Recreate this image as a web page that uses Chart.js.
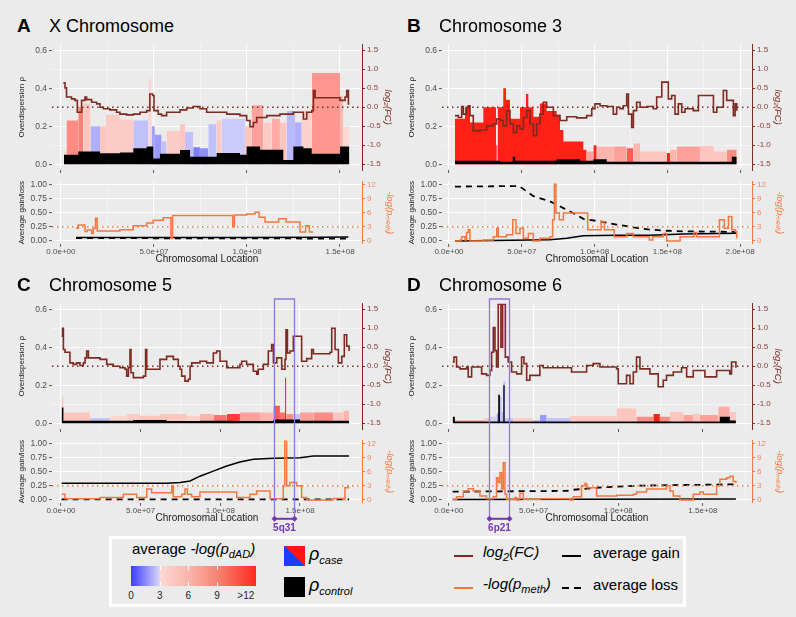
<!DOCTYPE html>
<html>
<head>
<meta charset="utf-8">
<script src="https://cdn.jsdelivr.net/npm/chart.js@4.4.1/dist/chart.umd.min.js"></script>
<style>
  body { margin: 0; background: #ebebeb; font-family: "Liberation Sans", Arial, sans-serif; }
  #fig { position: relative; width: 796px; height: 617px; overflow: hidden; background: #ebebeb; }
  #fig canvas { position: absolute; }
  .abs { position: absolute; white-space: nowrap; color: #000; }
  .letter { font-size: 19px; font-weight: bold; line-height: 19px; }
  .chrom { font-size: 18px; line-height: 18px; }
  .lg { font-size: 15px; line-height: 18px; }
  .lg i sub, .lg sub { font-size: 11px; vertical-align: -4px; line-height: 0; }
</style>
</head>
<body>
<div id="fig"></div>
<script>
// ---- ticks shared by all panels
const rhoTicks = [0, 0.1, 0.2, 0.3, 0.4, 0.5, 0.6]
const fcTicks = [-1.5, -1, -0.5, 0, 0.5, 1, 1.5]
const avgTicks = [0, 0.125, 0.25, 0.375, 0.5, 0.625, 0.75, 0.875, 1]
const methTicks = [0, 3, 6, 9, 12]
const posTicks = [0, 25, 50, 75, 100, 125, 150, 175, 200] // Mb

// ---- A: X chromosome (positions in Mb)
const xCasePos = [1.6, 3.0, 9.3, 12.0, 15.9, 21.0, 24.2, 31.7, 38.9, 47.0, 48.7, 50.5, 54.1, 56.8, 64.0, 66.7, 71.1, 74.7, 79.2, 83.7, 86.4, 98.9, 102.5, 108.8, 113.3, 117.7, 121.3, 125.8, 129.4, 134.8, 150.0, 151.8, 155.0]
const xCaseRho = [0.067, 0.23, 0.30, 0.32, 0.20, 0.20, 0.26, 0.235, 0.23, 0.45, 0.20, 0.155, 0.12, 0.175, 0.21, 0.17, 0.09, 0.085, 0.21, 0.23, 0.24, 0.20, 0.31, 0.22, 0.24, 0.22, 0.28, 0.22, 0.28, 0.48, 0.36, 0.20, 0.20]
const xCaseScore = [4, 8, 8.5, 5, 1.5, 5, 4.5, 4.5, 2, 3.5, 1.2, 1, 2, 4.5, 5, 2, 0.5, 0.8, 2, 4.5, 2.3, 5, 7, 4.5, 6.5, 5, 1.8, 1.5, 4, 7.5, 6, 3, 3]
const xCtrlPos = [1.6, 9.3, 21.0, 31.7, 38.9, 46.1, 49.6, 53.2, 64.0, 69.4, 83.7, 96.2, 99.8, 107.0, 119.5, 124.9, 130.3, 134.8, 150.0, 155.0]
const xCtrlRho = [0.05, 0.067, 0.058, 0.062, 0.085, 0.093, 0.03, 0.055, 0.075, 0.04, 0.06, 0.05, 0.093, 0.076, 0.023, 0.093, 0.085, 0.055, 0.093, 0.093]
const xFcPos = [1.3, 2.2, 3.0, 5.7, 7.5, 8.8, 11.1, 12.9, 13.8, 16.5, 19.2, 21.0, 22.8, 26.3, 29.9, 31.7, 35.3, 38.9, 42.5, 46.1, 47.8, 49.3, 50.0, 52.3, 54.1, 56.8, 64.0, 67.6, 71.1, 74.7, 78.3, 89.1, 96.2, 99.8, 101.6, 103.4, 105.2, 110.6, 117.7, 124.9, 130.3, 132.1, 134.8, 135.7, 136.6, 150.0, 152.7, 153.6, 154.5, 155.0]
const xFc = [0.64, 0.51, 0.27, 0.22, 0.18, -0.13, 0.18, 0.27, 0.2, 0.13, 0.09, 0, -0.04, -0.07, -0.13, -0.18, -0.2, -0.18, -0.13, -0.09, 0.35, 0.31, -0.09, -0.18, -0.22, -0.13, -0.07, -0.02, 0.02, -0.04, -0.13, -0.18, -0.22, -0.35, -0.51, -0.4, -0.27, -0.22, -0.18, -0.13, -0.31, -0.13, -0.09, 0.44, 0.25, 0.18, 0.27, 0.44, 0.09, 0.09]
const xMethPos = [8.1, 9.3, 11.6, 12.9, 14.2, 16.5, 17.4, 18.6, 19.5, 31.7, 38.9, 46.1, 49.6, 55.0, 59.1, 60.0, 92.3, 93.2, 99.8, 104.3, 106.5, 109.7, 117.0, 121.0, 128.5, 131.5, 133.5, 135.6]
const xMeth = [2.7, 3.4, 3.4, 2.0, 2.3, 1.6, 2.7, 4.8, 2.1, 2.4, 3.2, 3.8, 4.4, 4.9, 0.6, 5.4, 3.0, 5.5, 5.7, 6.1, 5.0, 4.0, 4.7, 4.0, 1.9, 3.2, 1.9, 1.9]
const xGainPos = [8.1, 60, 100, 140, 154.5]
const xGain = [0.06, 0.06, 0.062, 0.066, 0.07]
const xLossPos = [8.1, 60, 120, 154.5]
const xLoss = [0.05, 0.048, 0.045, 0.04]

// ---- B: chromosome 3
const c3CasePos = [4.1, 11.0, 14.4, 23.6, 32.3, 33.4, 37.3, 39.2, 41.9, 48.8, 52.9, 54.5, 58.0, 62.5, 67.1, 74.0, 76.3, 78.6, 92.3, 94.6, 99.2, 101.5, 112.9, 122.1, 126.7, 131.3, 149.6, 151.9, 156.5, 172.5, 181.7, 190.8, 197.7]
const c3CaseRho = [0.24, 0.30, 0.22, 0.30, 0.10, 0.30, 0.40, 0.34, 0.24, 0.30, 0.37, 0.30, 0.25, 0.32, 0.28, 0.26, 0.18, 0.12, 0.076, 0.067, 0.10, 0.094, 0.094, 0.085, 0.11, 0.067, 0.06, 0.076, 0.094, 0.097, 0.067, 0.076, 0.076]
const c3CaseScore = [12, 12, 12, 12, 10, 12, 12, 12, 12, 12, 12, 12, 12, 12, 12, 12, 12, 12, 12, 7, 12, 6, 7, 10, 6, 5, 12, 6, 7, 5, 5, 8, 8]
const c3CtrlPos = [4.1, 35.1, 43.8, 45.4, 74.0, 90.0, 99.2, 108.4, 194.3, 197.7]
const c3CtrlRho = [0.018, 0.014, 0.04, 0.018, 0.026, 0.018, 0.026, 0.014, 0.04, 0.04]
const c3FcPos = [4.1, 6.4, 8.7, 9.9, 12.1, 13.3, 14.4, 16.7, 21.3, 25.9, 30.5, 32.8, 35.1, 37.3, 39.6, 41.9, 44.2, 46.5, 48.8, 51.1, 53.4, 55.7, 58.0, 60.3, 62.5, 64.8, 67.1, 71.7, 76.3, 80.9, 87.7, 94.6, 98.1, 100.3, 103.8, 108.4, 112.9, 115.2, 117.5, 119.8, 122.1, 123.3, 125.5, 126.7, 128.9, 131.3, 135.9, 140.4, 142.7, 146.2, 150.7, 153.0, 155.3, 157.6, 159.9, 162.2, 167.9, 171.4, 181.7, 184.0, 188.5, 190.8, 195.4, 196.6, 197.7]
const c3Fc = [-0.22, -0.27, 0.02, -0.18, 0, 0.04, -0.22, -0.62, -0.6, -0.49, -0.44, -0.31, -0.35, -0.49, -0.09, -0.44, -0.66, -0.49, -0.58, -0.27, -0.09, -0.44, -0.75, -0.44, -0.18, 0.13, 0, -0.22, -0.35, -0.25, -0.28, -0.22, -0.04, 0.09, 0.04, 0.02, -0.18, 0, -0.04, 0.04, 0.35, -0.18, -0.53, -0.09, 0.13, 0, 0.02, -0.04, 0.27, 0.66, 0.22, 0.31, -0.18, 0.09, -0.13, -0.04, -0.09, 0.31, -0.13, 0, 0.44, 0.18, -0.22, 0.09, -0.09]
const c3MethPos = [4.1, 7.6, 8.7, 11.0, 12.1, 13.3, 14.4, 23.6, 30.5, 32.8, 33.9, 39.6, 43.8, 46.0, 48.8, 51.1, 54.5, 58.0, 62.5, 69.4, 71.2, 72.4, 73.5, 75.8, 78.6, 95.3, 104.5, 106.8, 113.6, 122.1, 126.7, 137.7, 140.0, 147.3, 149.6, 158.8, 168.4, 170.2, 185.8, 189.2, 192.0, 194.3, 196.6, 197.7]
const c3Meth = [0, 0.2, 0.9, 0.2, 1.8, 2.4, 0, 0.2, 0.9, 2.7, 0.9, 1.3, 4.5, 1.6, 2.7, 0.6, 1.6, 0, 0.6, 0.9, 4.5, 12, 5.9, 4.5, 5.9, 2.4, 4.1, 2.4, 0.9, 1.6, 0.9, 0.2, 0.9, 1.6, 0, 0.9, 1.8, 0.9, 4.5, 2.7, 5.2, 2.4, 2.0, 0.6]
const c3GainPos = [4.1, 69.4, 80.9, 92.3, 115.2, 138.1, 161.1, 197.7]
const c3Gain = [0, 0.02, 0.05, 0.09, 0.1, 0.1, 0.125, 0.137]
const c3LossPos = [4.1, 46.5, 48.8, 58.0, 69.4, 78.6, 85.5, 92.3, 103.8, 115.2, 126.7, 138.1, 149.6, 161.1, 197.7]
const c3Loss = [0.96, 0.97, 0.96, 0.79, 0.70, 0.58, 0.49, 0.39, 0.345, 0.29, 0.24, 0.2, 0.18, 0.17, 0.16]

// ---- C: chromosome 5
const c5CasePos = [0.4, 1.5, 18.2, 30.8, 41.2, 49.6, 62.1, 78.9, 87.2, 95.6, 104.0, 112.3, 124.9, 133.3, 137.4, 140.6, 141.4, 145.8, 150.0, 158.4, 170.9, 177.2, 180.8]
const c5CaseRho = [0.14, 0.057, 0.026, 0.04, 0.049, 0.04, 0.049, 0.04, 0.049, 0.043, 0.049, 0.057, 0.057, 0.092, 0.057, 0.24, 0.049, 0.049, 0.057, 0.057, 0.057, 0.066, 0.066]
const c5CaseScore = [5, 5, 2, 3.2, 4.5, 5, 5, 4, 6, 9, 11, 7, 6, 10, 9, 12, 8, 2, 7, 8, 5, 6, 6]
const c5CtrlPos = [0.4, 1.5, 45.4, 66.3, 87.2, 108.2, 133.3, 150.0, 180.8]
const c5CtrlRho = [0.083, 0.014, 0.017, 0.012, 0.014, 0.012, 0.02, 0.014, 0.014]
const c5FcPos = [0.4, 1.0, 1.5, 2.5, 5.6, 7.7, 9.8, 11.9, 14.0, 15.1, 16.1, 17.2, 24.5, 28.7, 32.8, 37.0, 40.2, 41.2, 42.3, 43.3, 43.9, 45.4, 51.7, 53.1, 53.8, 62.1, 66.3, 70.5, 73.6, 74.7, 75.7, 77.8, 79.9, 81.0, 82.0, 87.2, 91.4, 95.6, 97.7, 99.8, 104.0, 112.3, 113.4, 116.5, 120.7, 122.8, 123.8, 127.0, 130.1, 132.2, 133.3, 135.4, 138.5, 140.6, 141.2, 142.1, 143.7, 145.8, 149.0, 151.0, 154.2, 157.3, 158.4, 168.8, 169.9, 172.0, 174.1, 176.2, 177.8, 179.3, 180.8]
const c5Fc = [0.79, 1.0, 0.44, 0.37, 0.09, 0.05, 0.09, 0.02, 0.09, 0.22, 0.4, 0.22, 0.18, 0.05, 0, -0.04, -0.08, -0.26, -0.04, 0.44, -0.17, -0.3, -0.26, 0.44, -0.08, 0.18, 0.26, 0.18, 0, -0.08, -0.26, -0.39, -0.34, 0, 0.09, 0.13, 0.09, 0.35, 0.4, 0.13, -0.04, 0.05, 0.13, 0.05, -0.13, -0.21, -0.08, 0.05, 0.4, 0.57, 0.09, 0.22, -0.08, 0.18, 0.96, 0.35, 0.4, 0.79, 0.79, 0.13, 0.2, 0.44, 0.33, 0.37, 1.0, 0.44, 0.09, 0.26, 0.83, 0.53, 0.4]
const c5MethPos = [0.4, 2.5, 24.5, 39.1, 47.5, 53.8, 56.9, 69.5, 70.5, 75.7, 77.8, 79.3, 82.0, 87.2, 110.3, 118.6, 122.8, 131.2, 139.5, 140.4, 141.6, 143.7, 147.9, 151.0, 154.2, 170.9, 177.2, 178.2, 180.3]
const c5Meth = [1.2, 0.28, 0.5, 1.2, 0.5, 2.3, 1.55, 3.0, 0.7, 1.2, 2.3, 1.2, 0.7, 1.7, 0.5, 1.2, 1.9, 0.28, 3.0, 12.6, 3.0, 3.7, 3.0, 0.5, 0, 0.3, 0.1, 2.6, 3.1]
const c5GainPos = [0.4, 66.3, 74.7, 81.0, 87.2, 95.6, 104.0, 112.3, 120.7, 133.3, 150.0, 158.4, 180.8]
const c5Gain = [0.294, 0.294, 0.31, 0.335, 0.42, 0.51, 0.6, 0.67, 0.72, 0.735, 0.747, 0.776, 0.776]
const c5LossPos = [0.4, 90, 180.8]
const c5Loss = [0.01, 0.012, 0.01]

// ---- D: chromosome 6
const c6CasePos = [2.2, 3.5, 20.3, 24.2, 28.1, 30.1, 31.1, 32.1, 33.3, 38.0, 49.8, 53.7, 57.7, 71.5, 99.0, 110.8, 120.7, 124.6, 130.5, 138.4, 144.3, 148.2, 159.1, 165.9, 169.5]
const c6CaseRho = [0.026, 0.017, 0.026, 0.035, 0.052, 0.14, 0.06, 0.22, 0.026, 0.026, 0.017, 0.043, 0.026, 0.038, 0.078, 0.035, 0.049, 0.035, 0.06, 0.043, 0.05, 0.043, 0.087, 0.06, 0.06]
const c6CaseScore = [5, 6, 5, 2.5, 1, 2, 2, 2, 2, 4.5, 2, 1, 2, 4.5, 5, 8, 12, 8, 5, 7, 5, 7, 6.5, 5, 5]
const c6CtrlPos = [2.2, 3.5, 29.1, 30.1, 32.1, 32.9, 160.0, 165.9, 169.5]
const c6CtrlRho = [0.035, 0.009, 0.15, 0.009, 0.2, 0.009, 0.035, 0.015, 0.015]
const c6FcPos = [2.2, 3.0, 4.5, 6.5, 10.4, 11.4, 13.4, 19.3, 22.2, 24.2, 25.2, 26.2, 27.2, 28.1, 29.1, 30.7, 31.7, 33.3, 35.0, 37.0, 40.0, 42.9, 44.3, 45.9, 47.8, 53.7, 55.7, 72.4, 81.3, 85.2, 89.2, 99.0, 100.0, 104.9, 106.9, 108.9, 110.8, 112.8, 118.7, 123.6, 126.6, 128.5, 132.5, 137.4, 140.4, 144.3, 151.2, 158.1, 165.9, 166.9, 169.5]
const c6Fc = [0.11, 0.24, -0.02, -0.07, -0.02, -0.28, -0.02, -0.2, -0.24, -0.11, 0.37, 1.02, 0.41, -0.02, 1.63, 0.5, 1.63, 0.24, 0.11, -0.15, -0.2, 0.24, 0.07, -0.37, -0.24, 0.02, -0.04, -0.15, 0.02, 0.07, -0.02, -0.07, -0.46, -0.24, -0.46, -0.15, 0.24, -0.07, -0.2, -0.54, -0.37, -0.24, -0.15, -0.04, -0.28, -0.11, -0.28, -0.11, -0.2, 0.11, -0.04]
const c6MethPos = [2.2, 4.5, 8.5, 11.4, 14.4, 18.3, 22.2, 26.2, 28.1, 29.1, 30.1, 31.1, 32.1, 33.1, 34.1, 39.0, 40.0, 41.9, 43.9, 53.7, 71.5, 73.4, 78.3, 80.3, 81.3, 87.2, 99.0, 108.9, 110.8, 116.7, 128.5, 130.5, 132.5, 136.4, 144.3, 148.2, 150.2, 158.1, 160.0, 164.0, 165.9, 167.9, 169.5]
const c6Meth = [0.14, 0.7, 1.9, 2.4, 1.9, 0.85, 0.28, 0.7, 4.7, 3.7, 5.8, 2.3, 7.9, 1.2, 0.14, 0.5, 0, 1.4, 0.14, 0.28, 0, 0.7, 3.0, 3.5, 2.6, 0.85, 1.0, 1.2, 1.7, 2.3, 3.0, 1.9, 0.85, 0, 1.2, 1.7, 1.2, 3.0, 4.4, 4.7, 5.0, 3.9, 3.6]
const c6GainPos = [2.2, 80, 169.5]
const c6Gain = [0.01, 0.012, 0.015]
const c6LossPos = [2.2, 69.5, 73.4, 81.3, 89.2, 108.9, 128.5, 169.5]
const c6Loss = [0.147, 0.16, 0.18, 0.2, 0.22, 0.25, 0.26, 0.276]

// highlighted cytobands (Mb)
const band5 = { start: 133.7, end: 146.3, label: '5q31' }
const band6 = { start: 23.6, end: 35.4, label: '6p21' }

const FC_COL = '#7d2a20'
const METH_COL = '#f2783f'
Chart.defaults.font.family = '"Liberation Sans", Arial, sans-serif'

function pdadColor(s) {
  const mix = (a, b, t) => a.map((v, i) => Math.round(v + (b[i] - v) * t))
  let c
  if (s < 3) c = mix([60, 60, 255], [222, 222, 250], Math.sqrt(s / 3))
  else c = mix([252, 216, 210], [255, 32, 22], Math.pow(Math.min((s - 3) / 9, 1), 1.5))
  return `rgb(${c.join(',')})`
}

const near = (v, step) => Math.abs(v / step - Math.round(v / step)) < 1e-6
const useTicks = (vals) => (s) => {
  s.ticks = vals.filter((v) => v >= s.min && v <= s.max).map((v) => ({ value: v }))
}
const sci = (v) => (v * 1e6).toExponential(1).replace(/e([+-])(\d)$/, 'e$10$2')
const pts = (xs, ys) => xs.map((x, i) => ({ x, y: ys[i] }))

function grid(step, tickCol) {
  return {
    color: '#ffffff',
    lineWidth: (c) => (near(c.tick.value, step) ? 1.1 : 0.5),
    tickColor: (c) => (near(c.tick.value, step) ? tickCol : 'rgba(0,0,0,0)'),
    tickLength: 3,
    tickWidth: 0.8,
  }
}

const regionPlugin = {
  id: 'region',
  afterDatasetsDraw(chart, args, opts) {
    if (opts.start === undefined) return
    const { ctx, chartArea, height } = chart
    const xs = chart.scales.x
    const x1 = Math.round(xs.getPixelForValue(opts.start)) + 0.5
    const x2 = Math.round(xs.getPixelForValue(opts.end)) + 0.5
    ctx.save()
    ctx.strokeStyle = '#9079d6'
    ctx.lineWidth = 1.3
    ctx.beginPath()
    if (opts.part === 'top') {
      const y0 = chartArea.top - 4.5
      ctx.moveTo(x1, height)
      ctx.lineTo(x1, y0)
      ctx.lineTo(x2, y0)
      ctx.lineTo(x2, height)
      ctx.stroke()
    } else {
      const ya = chartArea.bottom + 16
      ctx.moveTo(x1, 0)
      ctx.lineTo(x1, ya)
      ctx.moveTo(x2, 0)
      ctx.lineTo(x2, ya)
      ctx.stroke()
      ctx.strokeStyle = ctx.fillStyle = '#7436b8'
      ctx.lineWidth = 2
      ctx.beginPath()
      ctx.moveTo(x1, ya)
      ctx.lineTo(x2, ya)
      ctx.stroke()
      for (const x of [x1, x2]) {
        ctx.beginPath()
        ctx.moveTo(x - 3, ya)
        ctx.lineTo(x, ya - 3)
        ctx.lineTo(x + 3, ya)
        ctx.lineTo(x, ya + 3)
        ctx.closePath()
        ctx.fill()
      }
      ctx.font = 'bold 10px "Liberation Sans", Arial, sans-serif'
      ctx.textAlign = 'center'
      ctx.textBaseline = 'middle'
      ctx.fillText(opts.label, (x1 + x2) / 2, ya + 9)
    }
    ctx.restore()
  },
}

const fig = document.getElementById('fig')

function makeCanvas(left, top, w, h) {
  const cv = document.createElement('canvas')
  cv.width = w
  cv.height = h
  cv.style.left = left + 'px'
  cv.style.top = top + 'px'
  fig.appendChild(cv)
  return cv
}

function addText(cls, html, left, top) {
  const d = document.createElement('div')
  d.className = 'abs ' + cls
  d.innerHTML = html
  d.style.left = left + 'px'
  d.style.top = top + 'px'
  fig.appendChild(d)
}

function yLeft(min, max, ticks, step, digits, title) {
  return {
    position: 'left', min, max,
    afterBuildTicks: useTicks(ticks),
    afterFit: (s) => { s.width = 52; s.paddingTop = 0; s.paddingBottom = 0 },
    ticks: { font: { size: 8.5 }, color: '#4d4d4d', padding: 2, callback: (v) => (near(v, step) ? v.toFixed(digits) : '') },
    grid: grid(step, '#333'),
    border: { display: false },
    title: { display: true, text: title, font: { size: 8 }, color: '#1a1a1a', padding: { top: 17, bottom: 0 } },
  }
}

function yRight(min, max, ticks, digits, title, col, labelCol, pad) {
  return {
    position: 'right', min, max,
    afterBuildTicks: useTicks(ticks),
    afterFit: (s) => { s.width = 38; s.paddingTop = 0; s.paddingBottom = 0 },
    ticks: { font: { size: 8 }, color: labelCol, padding: 2, callback: (v) => v.toFixed(digits) },
    grid: { drawOnChartArea: false, tickColor: col, tickLength: 3, tickWidth: 1 },
    border: { display: true, color: col, width: 1 },
    title: { display: true, text: title, font: { size: 9.5, style: 'italic' }, color: col, padding: { top: pad, bottom: 0 } },
  }
}

function drawPanel(p) {
  addText('letter', p.letter, p.left + 17, p.oy + 16)
  addText('chrom', p.name, p.left + 49, p.oy + 17)

  // upper plot: overdispersion + log2FC
  new Chart(makeCanvas(p.left, p.oy + 38, 400, 138), {
    type: 'line',
    data: {
      datasets: [
        { data: pts(p.fcPos, p.fc), yAxisID: 'y2', borderColor: FC_COL, borderWidth: 1.6, stepped: true, pointRadius: 0, order: 0 },
        { data: [{ x: p.xMin, y: 0 }, { x: p.xMax, y: 0 }], yAxisID: 'y2', borderColor: FC_COL, borderWidth: 1.5, borderDash: [1.5, 3.5], pointRadius: 0, order: 1 },
        { data: pts(p.ctrlPos, p.ctrlRho), yAxisID: 'y', stepped: true, fill: 'origin', backgroundColor: '#000', borderColor: 'rgba(0,0,0,0)', borderWidth: 0, pointRadius: 0, order: 2 },
        {
          data: pts(p.casePos, p.caseRho), yAxisID: 'y', stepped: true, fill: 'origin', backgroundColor: '#f88', borderColor: 'rgba(0,0,0,0)', borderWidth: 0, pointRadius: 0, order: 3,
          segment: { backgroundColor: (c) => pdadColor(p.caseScore[c.p0DataIndex]) },
        },
      ],
    },
    options: {
      animation: false, responsive: false, devicePixelRatio: 1, events: [],
      layout: { padding: { top: 6.5, left: 0, right: 0, bottom: 0 } },
      plugins: { legend: { display: false }, tooltip: { enabled: false }, region: p.band ? { ...p.band, part: 'top' } : false },
      scales: {
        x: {
          type: 'linear', min: p.xMin, max: p.xMax,
          afterBuildTicks: useTicks(posTicks),
          afterFit: (s) => { s.height = 6; s.paddingLeft = 0; s.paddingRight = 0 },
          ticks: { display: false },
          grid: grid(50, '#333'),
          border: { display: false },
        },
        y: yLeft(-0.03, 0.63, rhoTicks, 0.2, 1, 'Overdispersion ρ'),
        y2: yRight(-1.65, 1.65, fcTicks, 1, 'log₂(FC)', FC_COL, '#8b4038', 6.6),
      },
    },
    plugins: [regionPlugin],
  })

  // lower plot: average gain/loss + methylation
  new Chart(makeCanvas(p.left, p.oy + 176, 400, 100), {
    type: 'line',
    data: {
      datasets: [
        { data: pts(p.methPos, p.meth), yAxisID: 'y2', borderColor: METH_COL, borderWidth: 1.5, stepped: true, pointRadius: 0, order: 0 },
        { data: [{ x: p.xMin, y: 3 }, { x: p.xMax, y: 3 }], yAxisID: 'y2', borderColor: METH_COL, borderWidth: 1.5, borderDash: [1.5, 3.5], pointRadius: 0, order: 1 },
        { data: pts(p.gainPos, p.gain), yAxisID: 'y', borderColor: '#000', borderWidth: 1.5, pointRadius: 0, order: 2 },
        { data: pts(p.lossPos, p.loss), yAxisID: 'y', borderColor: '#000', borderWidth: 1.8, borderDash: [6, 5], pointRadius: 0, order: 3 },
      ],
    },
    options: {
      animation: false, responsive: false, devicePixelRatio: 1, events: [],
      layout: { padding: { top: 5.5, left: 0, right: 0, bottom: 8 } },
      plugins: { legend: { display: false }, tooltip: { enabled: false }, region: p.band ? { ...p.band, part: 'bottom' } : false },
      scales: {
        x: {
          type: 'linear', min: p.xMin, max: p.xMax,
          afterBuildTicks: useTicks(posTicks),
          afterFit: (s) => { s.height = 24.2; s.paddingLeft = 0; s.paddingRight = 0 },
          ticks: { font: { size: 8 }, color: '#4d4d4d', padding: 0, autoSkip: false, maxRotation: 0, minRotation: 0, callback: (v) => (near(v, 50) ? sci(v) : '') },
          grid: grid(50, '#333'),
          border: { display: false },
          title: { display: true, text: 'Chromosomal Location', font: { size: 10 }, color: '#1a1a1a', padding: { top: 0, bottom: 3 } },
        },
        y: yLeft(-0.05, 1.05, avgTicks, 0.25, 2, 'Average gain/loss'),
        y2: yRight(-0.6, 12.6, methTicks, 0, '-log(pₘₑₜₕ)', METH_COL, '#f08a60', 4.6),
      },
    },
    plugins: [regionPlugin],
  })
}

const panels = [
  { letter: 'A', name: 'X Chromosome', left: 0, oy: 0, xMin: -4.8, xMax: 161.8,
    casePos: xCasePos, caseRho: xCaseRho, caseScore: xCaseScore, ctrlPos: xCtrlPos, ctrlRho: xCtrlRho,
    fcPos: xFcPos, fc: xFc, methPos: xMethPos, meth: xMeth, gainPos: xGainPos, gain: xGain, lossPos: xLossPos, loss: xLoss },
  { letter: 'B', name: 'Chromosome 3', left: 390, oy: 0, xMin: -4.8, xMax: 208.2,
    casePos: c3CasePos, caseRho: c3CaseRho, caseScore: c3CaseScore, ctrlPos: c3CtrlPos, ctrlRho: c3CtrlRho,
    fcPos: c3FcPos, fc: c3Fc, methPos: c3MethPos, meth: c3Meth, gainPos: c3GainPos, gain: c3Gain, lossPos: c3LossPos, loss: c3Loss },
  { letter: 'C', name: 'Chromosome 5', left: 0, oy: 259, xMin: -5.65, xMax: 188.9, band: band5,
    casePos: c5CasePos, caseRho: c5CaseRho, caseScore: c5CaseScore, ctrlPos: c5CtrlPos, ctrlRho: c5CtrlRho,
    fcPos: c5FcPos, fc: c5Fc, methPos: c5MethPos, meth: c5Meth, gainPos: c5GainPos, gain: c5Gain, lossPos: c5LossPos, loss: c5Loss },
  { letter: 'D', name: 'Chromosome 6', left: 390, oy: 259, xMin: -4.1, xMax: 179.0, band: band6,
    casePos: c6CasePos, caseRho: c6CaseRho, caseScore: c6CaseScore, ctrlPos: c6CtrlPos, ctrlRho: c6CtrlRho,
    fcPos: c6FcPos, fc: c6Fc, methPos: c6MethPos, meth: c6Meth, gainPos: c6GainPos, gain: c6Gain, lossPos: c6LossPos, loss: c6Loss },
]

panels.forEach(drawPanel)

// ---- legend box
const box = document.createElement('div')
box.style.cssText = 'position:absolute;left:109px;top:536px;width:571px;height:65px;border:3px solid #fff;background:#ebebeb;'
fig.appendChild(box)

addText('lg', 'average <i>-log(p<sub>dAD</sub>)</i>', 132, 540)
const bar = document.createElement('div')
bar.style.cssText = 'position:absolute;left:131px;top:566px;width:125px;height:20px;' +
  'background:linear-gradient(to right,#3c3cff 0%,#dadafa 23.5%,#fcd8d2 23.5%,#fab4aa 47%,#f7806f 70.5%,#ff2a1e 100%);'
fig.appendChild(bar)
const barLabels = ['0', '3', '6', '9', '>12']
barLabels.forEach((t, i) => {
  const d = document.createElement('div')
  d.className = 'abs'
  d.style.cssText += 'font-size:10px;line-height:12px;width:30px;text-align:center;color:#222;'
  d.style.left = (131 + i * 28.7 - 15) + 'px'
  d.style.top = '590px'
  d.textContent = t
  fig.appendChild(d)
  if (i > 0 && i < 4) {
    const tk = document.createElement('div')
    tk.style.cssText = `position:absolute;left:${131 + i * 28.7}px;top:566px;width:1px;height:4px;background:#fff;`
    fig.appendChild(tk)
    const tk2 = tk.cloneNode()
    tk2.style.top = '582px'
    fig.appendChild(tk2)
  }
})

const sw1 = document.createElement('div')
sw1.style.cssText = 'position:absolute;left:284px;top:546px;width:21px;height:20px;background:linear-gradient(to bottom left,#ff1414 50%,#1e3cff 50%);'
fig.appendChild(sw1)
const sw2 = document.createElement('div')
sw2.style.cssText = 'position:absolute;left:284px;top:577px;width:21px;height:20px;background:#000;'
fig.appendChild(sw2)
addText('lg', '<i style="font-size:18px">ρ<sub>case</sub></i>', 309, 545)
addText('lg', '<i style="font-size:18px">ρ<sub>control</sub></i>', 309, 576)

function legendLine(left, top, col, dashed) {
  if (dashed) {
    for (const dx of [0, 12]) {
      const s = document.createElement('div')
      s.style.cssText = `position:absolute;left:${left + dx}px;top:${top}px;width:7px;height:2px;background:${col};`
      fig.appendChild(s)
    }
  } else {
    const s = document.createElement('div')
    s.style.cssText = `position:absolute;left:${left}px;top:${top}px;width:19px;height:2px;background:${col};`
    fig.appendChild(s)
  }
}
legendLine(454, 555, FC_COL, false)
legendLine(454, 587, METH_COL, false)
legendLine(562, 555, '#000', false)
legendLine(562, 587, '#000', true)
addText('lg', '<i>log<sub>2</sub>(FC)</i>', 483, 543)
addText('lg', '<i>-log(p<sub>meth</sub>)</i>', 483, 575)
addText('lg', 'average gain', 593, 544)
addText('lg', 'average loss', 593, 576)
</script>
</body>
</html>
